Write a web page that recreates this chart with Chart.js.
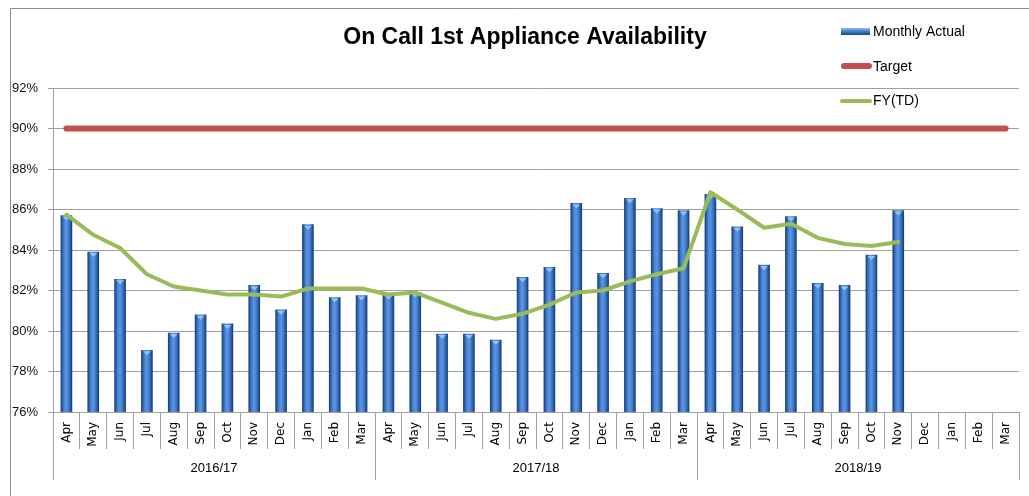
<!DOCTYPE html>
<html>
<head>
<meta charset="utf-8">
<script src="https://cdn.jsdelivr.net/npm/chart.js@4.4.1/dist/chart.umd.min.js"></script>
<style>
  html, body { margin: 0; padding: 0; background: #ffffff; }
  #wrap { width: 1029px; height: 496px; position: relative; }
</style>
</head>
<body>
<div id="wrap"><canvas id="c" width="1029" height="496"></canvas></div>
<script>
// ---- Data ----
const months = ['Apr','May','Jun','Jul','Aug','Sep','Oct','Nov','Dec','Jan','Feb','Mar',
                'Apr','May','Jun','Jul','Aug','Sep','Oct','Nov','Dec','Jan','Feb','Mar',
                'Apr','May','Jun','Jul','Aug','Sep','Oct','Nov','Dec','Jan','Feb','Mar'];
const years = ['2016/17', '2017/18', '2018/19'];
const monthlyActual = [85.7, 83.9, 82.55, 79.05, 79.9, 80.8, 80.35, 82.25, 81.05, 85.25, 81.65, 81.75,
                       81.8, 81.9, 79.85, 79.85, 79.55, 82.65, 83.15, 86.3, 82.85, 86.55, 86.05, 85.95,
                       86.75, 85.15, 83.25, 85.65, 82.35, 82.25, 83.75, 85.95, null, null, null, null];
const target = [90, 90, 90, 90, 90, 90, 90, 90, 90, 90, 90, 90,
                90, 90, 90, 90, 90, 90, 90, 90, 90, 90, 90, 90,
                90, 90, 90, 90, 90, 90, 90, 90, 90, 90, 90, 90];
const fyTD = [85.75, 84.75, 84.1, 82.8, 82.2, 82.0, 81.8, 81.8, 81.7, 82.1, 82.1, 82.1,
              81.8, 81.9, 81.4, 80.9, 80.6, 80.85, 81.3, 81.9, 82.0, 82.45, 82.8, 83.1,
              86.85, 86.0, 85.1, 85.3, 84.6, 84.3, 84.2, 84.4, null, null, null, null];
const yTicks = [76, 78, 80, 82, 84, 86, 88, 90, 92];
const titleText = 'On Call 1st Appliance Availability';

Chart.defaults.font.family = "'Liberation Sans', Arial, sans-serif";
Chart.defaults.color = '#000';

const BAR_W = 11;
const GRID = '#a0a0a0';

function barGradient(c) {
  const chart = c.chart;
  if (!chart.chartArea || c.type !== 'data') return '#3a72c0';
  const x = chart.scales.x.getPixelForValue(c.dataIndex);
  const g = chart.ctx.createLinearGradient(x - BAR_W / 2, 0, x + BAR_W / 2, 0);
  g.addColorStop(0, '#1b3f82');
  g.addColorStop(0.3, '#4a86d4');
  g.addColorStop(0.5, '#5b96e0');
  g.addColorStop(0.75, '#3b73c2');
  g.addColorStop(1, '#193c7a');
  return g;
}

const decor = {
  id: 'decor',
  beforeDraw(chart) {
    const ctx = chart.ctx;
    ctx.save();
    ctx.fillStyle = '#fff';
    ctx.fillRect(0, 0, chart.width, chart.height);
    ctx.strokeStyle = '#8c8c8c';
    ctx.lineWidth = 1;
    ctx.beginPath();
    ctx.moveTo(10.5, 496);
    ctx.lineTo(10.5, 8.5);
    ctx.lineTo(1029, 8.5);
    ctx.stroke();
    ctx.restore();
  },
  afterDatasetDraw(chart, args) {
    if (args.index !== 0) return;
    const ctx = chart.ctx;
    ctx.save();
    ctx.fillStyle = '#8fc3f2';
    args.meta.data.forEach((el, i) => {
      if (monthlyActual[i] == null) return;
      ctx.beginPath();
      ctx.moveTo(el.x - 4, el.y + 1);
      ctx.lineTo(el.x + 4, el.y + 1);
      ctx.lineTo(el.x, el.y + 5);
      ctx.closePath();
      ctx.fill();
    });
    ctx.restore();
  },
  afterDraw(chart) {
    const ctx = chart.ctx;
    ctx.save();
    // title
    ctx.fillStyle = '#000';
    ctx.font = "bold 23px 'Liberation Sans', Arial, sans-serif";
    ctx.textAlign = 'center';
    ctx.textBaseline = 'middle';
    ctx.fillText(titleText, 525, 38);
    // legend
    const ds = chart.data.datasets;
    ctx.font = "14px 'Liberation Sans', Arial, sans-serif";
    ctx.textAlign = 'left';
    // Monthly Actual
    const g = ctx.createLinearGradient(0, 28, 0, 35);
    g.addColorStop(0, '#8cc0f0');
    g.addColorStop(0.4, '#4a86d2');
    g.addColorStop(1, '#1d4386');
    ctx.fillStyle = g;
    ctx.fillRect(841, 28, 29, 7);
    ctx.fillStyle = '#000';
    ctx.fillText(ds[0].label, 873, 32);
    // Target
    ctx.strokeStyle = ds[2].borderColor;
    ctx.lineWidth = 6;
    ctx.lineCap = 'round';
    ctx.beginPath(); ctx.moveTo(844, 66); ctx.lineTo(869, 66); ctx.stroke();
    ctx.fillText(ds[2].label, 873, 67);
    // FY(TD)
    ctx.strokeStyle = ds[1].borderColor;
    ctx.lineWidth = 4;
    ctx.beginPath(); ctx.moveTo(842, 101); ctx.lineTo(870, 101); ctx.stroke();
    ctx.fillText(ds[1].label, 873, 101);
    ctx.restore();
  }
};

new Chart(document.getElementById('c'), {
  type: 'bar',
  data: {
    labels: months,
    datasets: [
      {
        type: 'bar',
        label: 'Monthly Actual',
        data: monthlyActual,
        backgroundColor: barGradient,
        barThickness: BAR_W,
        order: 3
      },
      {
        type: 'line',
        label: 'FY(TD)',
        data: fyTD,
        borderColor: '#9bbb59',
        borderWidth: 4,
        pointRadius: 0,
        tension: 0,
        borderJoinStyle: 'round',
        borderCapStyle: 'round',
        spanGaps: false,
        order: 2
      },
      {
        type: 'line',
        label: 'Target',
        data: target,
        borderColor: '#c0504d',
        borderWidth: 6,
        pointRadius: 0,
        borderCapStyle: 'round',
        order: 1
      }
    ]
  },
  options: {
    responsive: false,
    animation: false,
    events: [],
    layout: { padding: { left: 10, right: 10, top: 88, bottom: 16 } },
    plugins: {
      legend: { display: false },
      title: { display: false },
      tooltip: { enabled: false }
    },
    scales: {
      y: {
        min: 76, max: 92,
        afterBuildTicks(scale) { scale.ticks = yTicks.map(v => ({ value: v })); },
        afterFit(scale) { scale.width = 43; },
        ticks: {
          padding: 10,
          font: { size: 13 },
          color: '#111',
          callback: v => v + '%'
        },
        grid: { color: GRID, lineWidth: 1, tickLength: 5 },
        border: { color: GRID }
      },
      x: {
        position: 'bottom',
        afterFit(scale) { scale.height = 37; },
        ticks: {
          autoSkip: false,
          minRotation: 90, maxRotation: 90,
          padding: -27,
          font: { family: "'DejaVu Sans', Verdana, sans-serif", size: 12 },
          color: '#000'
        },
        grid: { offset: true, drawOnChartArea: false, color: GRID, tickLength: 37 },
        border: { color: GRID }
      },
      x2: {
        type: 'category',
        position: 'bottom',
        labels: years,
        offset: true,
        afterFit(scale) { scale.height = 31; },
        ticks: {
          padding: -19,
          font: { size: 13 },
          color: '#000'
        },
        grid: { offset: true, drawOnChartArea: false, color: GRID, tickLength: 31 },
        border: { display: false }
      }
    }
  },
  plugins: [decor]
});
</script>
</body>
</html>
